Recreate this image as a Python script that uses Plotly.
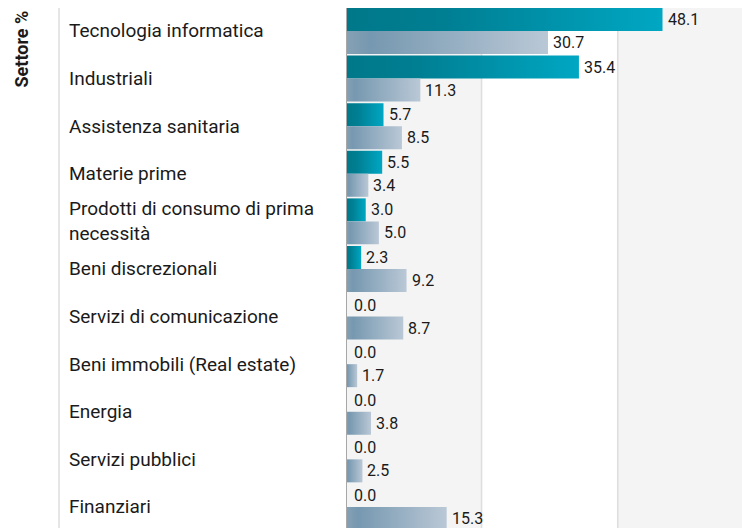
import plotly.graph_objects as go

categories = [
    "Tecnologia informatica",
    "Industriali",
    "Assistenza sanitaria",
    "Materie prime",
    "Prodotti di consumo di prima<br>necessità",
    "Beni discrezionali",
    "Servizi di comunicazione",
    "Beni immobili (Real estate)",
    "Energia",
    "Servizi pubblici",
    "Finanziari",
]
fondo = [48.1, 35.4, 5.7, 5.5, 3.0, 2.3, 0.0, 0.0, 0.0, 0.0, 0.0]
indice = [30.7, 11.3, 8.5, 3.4, 5.0, 9.2, 8.7, 1.7, 3.8, 2.5, 15.3]
axis_title = "Settore %"
band_edges = [20.6, 41.3]

teal_cs = [[0, "#00788a"], [0.3, "#007e92"], [1, "#00a7c3"]]
gray_cs = [[0, "#86a1b5"], [0.12, "#7698b0"], [1, "#bac8d6"]]

FONT = "Roboto, 'Open Sans', sans-serif"
H = 0.483
PX_PER_UNIT = 6.58
PAGE_OFF = 8          # default body margin of the html page
PLOT_L = 338          # figure px
PLOT_W = 750 - PLOT_L
XMAX = PLOT_W / PX_PER_UNIT

fig = go.Figure()
annotations = []

def px_to_paper(page_px):
    return (page_px - PAGE_OFF - PLOT_L) / PLOT_W

for i, (f, b) in enumerate(zip(fondo, indice)):
    for val, y0, y1, cs, name in [(f, i - H, i, teal_cs, "Fondo"), (b, i, i + H, gray_cs, "Indice")]:
        if val > 0:
            fig.add_trace(go.Scatter(
                x=[0, val, val, 0, 0], y=[y0, y0, y1, y1, y0],
                fill="toself", mode="lines",
                line=dict(width=0, color="rgba(0,0,0,0)"),
                fillgradient=dict(type="horizontal", colorscale=cs, start=0, stop=val),
                name=name, showlegend=False, hoverinfo="skip",
            ))
        annotations.append(dict(
            x=val, y=(y0 + y1) / 2, xref="x", yref="y",
            text=f"{val:.1f}", showarrow=False, xanchor="left", yanchor="middle",
            xshift=3 if val > 0 else 6, font=dict(family=FONT, size=16, color="#1a1a1a"),
        ))
    annotations.append(dict(
        x=px_to_paper(67), y=i, xref="paper", yref="y",
        text=categories[i], showarrow=False, xanchor="left", yanchor="middle",
        align="left", font=dict(family=FONT, size=19, color="#1a1a1a"),
    ))

annotations.append(dict(
    x=px_to_paper(21), y=1, xref="paper", yref="paper",
    text=f"<b>{axis_title}</b>", textangle=-90, showarrow=False,
    xanchor="center", yanchor="top", yshift=-1,
    font=dict(family=FONT, size=18, color="#1a1a1a"),
))

shapes = [
    dict(type="rect", xref="x", yref="paper", x0=0, x1=band_edges[0], y0=0, y1=1,
         fillcolor="#f4f4f4", line=dict(width=0), layer="below"),
    dict(type="rect", xref="x", yref="paper", x0=band_edges[1], x1=XMAX + 5, y0=0, y1=1,
         fillcolor="#f4f4f4", line=dict(width=0), layer="below"),
]
for e in band_edges:
    shapes.append(dict(type="line", xref="x", yref="paper", x0=e, x1=e, y0=0, y1=1,
                       line=dict(color="#dedede", width=1.6), layer="below"))
shapes.append(dict(type="line", xref="x", yref="paper", x0=0, x1=0, y0=0, y1=1,
                   line=dict(color="#a8a8a8", width=2), layer="above"))
shapes.append(dict(type="line", xref="paper", yref="paper", x0=px_to_paper(59), x1=px_to_paper(59),
                   y0=0, y1=1, line=dict(color="#cccccc", width=1)))

fig.update_layout(
    width=750, height=528,
    margin=dict(l=PLOT_L, r=0, t=0, b=0, pad=0),
    paper_bgcolor="white", plot_bgcolor="white",
    xaxis=dict(range=[0, XMAX], showgrid=False, zeroline=False, showticklabels=False, fixedrange=True),
    yaxis=dict(range=[10.61, -H], showgrid=False, zeroline=False, showticklabels=False, fixedrange=True),
    annotations=annotations, shapes=shapes, showlegend=False,
)

fig.write_html("out.html")
